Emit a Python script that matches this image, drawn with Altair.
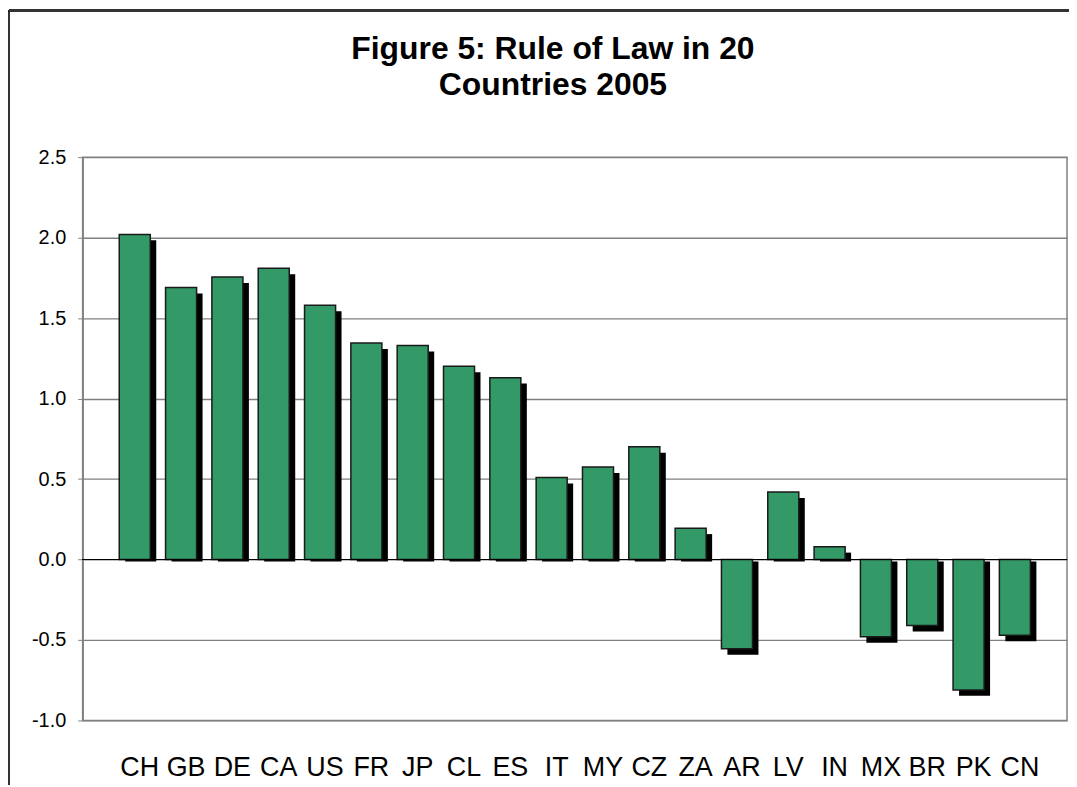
import altair as alt
import pandas as pd

countries = ["CH", "GB", "DE", "CA", "US", "FR", "JP", "CL", "ES", "IT",
             "MY", "CZ", "ZA", "AR", "LV", "IN", "MX", "BR", "PK", "CN"]
rule_of_law = [2.02, 1.69, 1.755, 1.81, 1.58, 1.345, 1.33, 1.20, 1.13, 0.51,
               0.575, 0.70, 0.195, -0.555, 0.42, 0.08, -0.48, -0.41, -0.81, -0.47]
y_ticks = [-1.0, -0.5, 0.0, 0.5, 1.0, 1.5, 2.0, 2.5]
title_lines = ["Figure 5: Rule of Law in 20", "Countries 2005"]

df = pd.DataFrame({"country": countries, "value": rule_of_law})

FONT = "Liberation Sans"

x_enc = alt.X(
    "country:N", sort=countries, title=None,
    scale=alt.Scale(paddingInner=0.33, paddingOuter=0.79),
    axis=alt.Axis(domain=False, ticks=False, tickSize=0, labelAngle=0,
                  labelFontSize=27, labelFont=FONT, labelColor="#000",
                  labelBaseline="alphabetic", labelPadding=55, labelOffset=5,
                  grid=False),
)
y_enc = alt.Y(
    "value:Q", title=None,
    scale=alt.Scale(domain=[-1.0, 2.5], nice=False, zero=False),
    axis=alt.Axis(values=y_ticks, labelExpr="replace(format(datum.value, '.1f'), '\u2212', '-')",
                  labelFontSize=20, labelFont=FONT,
                  labelColor="#000", labelPadding=12, tickSize=5,
                  tickColor="#808080", domainColor="#808080", domainWidth=1.5,
                  gridColor="#808080", gridWidth=1.3, grid=True),
)

base = alt.Chart(df)

shadow = base.mark_bar(color="#000000", xOffset=6, yOffset=6, y2Offset=2).encode(
    x=x_enc, y=y_enc, y2=alt.datum(0)
)
bars = base.mark_bar(color="#339966", stroke="#1a1a1a", strokeWidth=1.5).encode(
    x=x_enc, y=y_enc, y2=alt.datum(0)
)
zero_line = base.mark_rule(color="#000000", strokeWidth=1.2).encode(
    y=alt.datum(0)
)
border_left = base.mark_rule(color="#333333", strokeWidth=2).encode(
    x=alt.value(-74), y=alt.value(-147), y2=alt.value(720)
)
border_top = base.mark_rule(color="#333333", strokeWidth=2.5).encode(
    x=alt.value(-74), x2=alt.value(1100), y=alt.value(-147)
)

chart = alt.layer(border_left, border_top, shadow, bars, zero_line).properties(
    width=989,
    height=566,
    autosize=alt.AutoSizeParams(type="none"),
    padding={"left": 75, "top": 148, "right": 2, "bottom": 63},
    background="white",
    title=alt.TitleParams(
        text=title_lines, font=FONT, fontSize=32, fontWeight="bold",
        color="#000", anchor="middle", lineHeight=36, offset=-93, dx=-22,
    ),
).configure_view(stroke="#808080", strokeWidth=1.5)

chart.save("out.html", embed_options={"renderer": "svg", "actions": False})
